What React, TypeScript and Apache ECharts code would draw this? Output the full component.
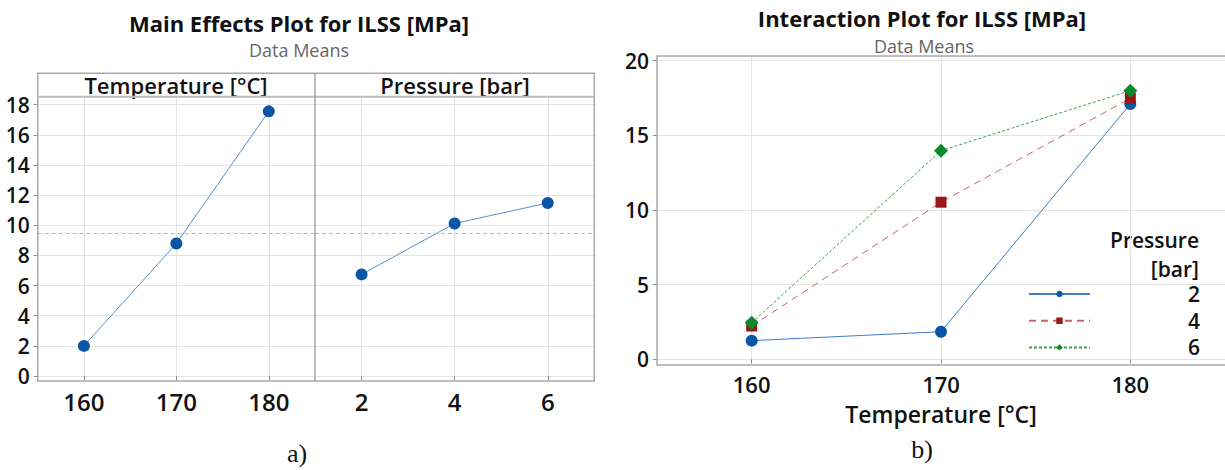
import React, { useEffect, useRef } from "react";
import * as echarts from "echarts";

// ---- data ----
const temperatures = [160, 170, 180];
const pressures = [2, 4, 6];
const tempMeans = [2.0, 8.79, 17.56];
const pressureMeans = [6.74, 10.12, 11.48];
const grandMean = 9.48;
const pressureLevels = ["2", "4", "6"];
const ilssP2 = [1.25, 1.85, 17.1];
const ilssP4 = [2.23, 10.52, 17.48];
const ilssP6 = [2.45, 13.97, 17.99];
const mainYTicks = [0, 2, 4, 6, 8, 10, 12, 14, 16, 18];
const interYTicks = [0, 5, 10, 15, 20];

const FONT = '"Open Sans", "Noto Sans", sans-serif';
const GRID_COLOR = "#e4e4e4";
const FRAME_COLOR = "#a9a9a9";

function pairs(xs: number[], ys: number[]) {
  return xs.map((x, i) => [x, ys[i]]);
}

export default function App() {
  const ref = useRef<HTMLDivElement>(null);
  useEffect(() => {
    if (!ref.current) return;
    const chart = echarts.init(ref.current, null, { renderer: "svg" });

    const valueX = (grid: number, min: number, max: number, ticks: number[], fontSize: number, extra: any = {}) => ({
      type: "value",
      gridIndex: grid,
      min,
      max,
      axisLine: { show: false },
      axisTick: { show: true, length: 4, customValues: ticks, lineStyle: { color: "#8c8c8c" } },
      axisLabel: { customValues: ticks, margin: 8, fontSize, fontFamily: FONT, fontWeight: 600, color: "#111" },
      splitLine: { show: true, lineStyle: { color: GRID_COLOR, width: 1 } },
      ...extra,
    });
    const valueY = (grid: number, min: number, max: number, ticks: number[], showLabel: boolean, fontSize: number) => ({
      type: "value",
      gridIndex: grid,
      min,
      max,
      axisLine: { show: false },
      axisTick: { show: showLabel, length: 4, customValues: ticks, lineStyle: { color: "#8c8c8c" } },
      axisLabel: { show: showLabel, customValues: ticks, margin: 8, fontSize, fontFamily: FONT, fontWeight: 600, color: "#111" },
      splitLine: { show: true, lineStyle: { color: GRID_COLOR, width: 1 } },
    });

    const text = (x: number, y: number, t: string, size: number, weight: string | number, family: string, fill = "#111", align = "center") => ({
      type: "text",
      x,
      y,
      silent: true,
      style: {
        text: t,
        fontSize: size,
        fontWeight: weight,
        fontFamily: family,
        lineHeight: size,
        fill,
        align,
        verticalAlign: "middle",
      },
    });

    const option: any = {
      animation: false,
      backgroundColor: "#fff",
      grid: [
        { left: 37.7, top: 96.7, width: 277.3, height: 284.3 },
        { left: 315, top: 96.7, width: 279.3, height: 284.3 },
        { left: 657, top: 56, width: 571, height: 309 },
      ],
      xAxis: [
        valueX(0, 155, 185, temperatures, 24),
        valueX(1, 1, 7, pressures, 24),
        valueX(2, 155, 185, temperatures, 22, {
          name: "Temperature [°C]",
          nameLocation: "middle",
          nameGap: 37,
          nameTextStyle: { fontSize: 23, fontWeight: 600, fontFamily: FONT, color: "#111" },
        }),
      ],
      yAxis: [
        valueY(0, -0.33, 18.53, mainYTicks, true, 21),
        valueY(1, -0.33, 18.53, mainYTicks, false, 21),
        valueY(2, -0.38, 20.31, interYTicks, true, 21),
      ],
      legend: {
        data: pressureLevels,
        orient: "vertical",
        left: 1023,
        top: 278.5,
        itemWidth: 61,
        itemHeight: 8,
        itemGap: 5.7,
        selectedMode: false,
        formatter: "{a|{name}}",
        textStyle: {
          rich: {
            a: { width: 105, align: "right", fontSize: 21, lineHeight: 21, fontFamily: FONT, fontWeight: 600, color: "#111" },
          },
        },
      },
      series: [
        {
          name: "Temperature means",
          type: "line",
          xAxisIndex: 0,
          yAxisIndex: 0,
          data: pairs(temperatures, tempMeans),
          symbol: "circle",
          symbolSize: 12,
          itemStyle: { color: "#0a56a6" },
          lineStyle: { color: "#5a8ecf", width: 1 },
          markLine: {
            silent: true,
            symbol: "none",
            label: { show: false },
            lineStyle: { color: "#b8b8b8", type: [4, 3], width: 1 },
            data: [{ yAxis: grandMean }],
          },
        },
        {
          name: "Pressure means",
          type: "line",
          xAxisIndex: 1,
          yAxisIndex: 1,
          data: pairs(pressures, pressureMeans),
          symbol: "circle",
          symbolSize: 12,
          itemStyle: { color: "#0a56a6" },
          lineStyle: { color: "#5a8ecf", width: 1 },
          markLine: {
            silent: true,
            symbol: "none",
            label: { show: false },
            lineStyle: { color: "#b8b8b8", type: [4, 3], width: 1 },
            data: [{ yAxis: grandMean }],
          },
        },
        {
          name: pressureLevels[0],
          type: "line",
          xAxisIndex: 2,
          yAxisIndex: 2,
          data: pairs(temperatures, ilssP2),
          symbol: "circle",
          symbolSize: 12,
          itemStyle: { color: "#0a56a6" },
          lineStyle: { color: "#3f7dc6", width: 1 },
          z: 3,
        },
        {
          name: pressureLevels[1],
          type: "line",
          xAxisIndex: 2,
          yAxisIndex: 2,
          data: pairs(temperatures, ilssP4),
          symbol: "rect",
          symbolSize: 11,
          itemStyle: { color: "#9b1616" },
          lineStyle: { color: "#c86464", width: 1, type: [7, 5] },
          z: 4,
        },
        {
          name: pressureLevels[2],
          type: "line",
          xAxisIndex: 2,
          yAxisIndex: 2,
          data: pairs(temperatures, ilssP6),
          symbol: "diamond",
          symbolSize: 14,
          itemStyle: { color: "#0a8a2a" },
          lineStyle: { color: "#3aa04e", width: 1, type: [3, 2] },
          z: 5,
        },
      ],
      graphic: [
        // left frame with header strip
        { type: "rect", silent: true, z: 10, shape: { x: 37.7, y: 73.3, width: 556.6, height: 307.7 }, style: { fill: "none", stroke: FRAME_COLOR, lineWidth: 1.5 } },
        { type: "line", silent: true, z: 10, shape: { x1: 37.7, y1: 96.7, x2: 594.3, y2: 96.7 }, style: { stroke: "#bdbdbd", lineWidth: 2 } },
        { type: "line", silent: true, z: 10, shape: { x1: 315, y1: 73.3, x2: 315, y2: 381 }, style: { stroke: "#7a7a7a", lineWidth: 1 } },
        // right frame
        { type: "rect", silent: true, z: 10, shape: { x: 657, y: 56, width: 580, height: 309 }, style: { fill: "none", stroke: FRAME_COLOR, lineWidth: 1.5 } },
        text(299, 23, "Main Effects Plot for ILSS [MPa]", 22, "bold", FONT),
        text(299, 50, "Data Means", 18, "normal", FONT, "#666"),
        text(922, 18, "Interaction Plot for ILSS [MPa]", 22, "bold", FONT),
        text(924, 46, "Data Means", 18, "normal", FONT, "#666"),
        text(176, 85, "Temperature [°C]", 22, 600, FONT),
        text(455, 85, "Pressure [bar]", 22, 600, FONT),
        text(1199, 240, "Pressure", 21, 600, FONT, "#111", "right"),
        text(1199, 269, "[bar]", 21, 600, FONT, "#111", "right"),
        text(297, 453, "a)", 26, "normal", '"Liberation Serif", serif'),
        text(922, 449, "b)", 26, "normal", '"Liberation Serif", serif'),
      ],
    };
    chart.setOption(option);
    return () => chart.dispose();
  }, []);
  return <div ref={ref} style={{ position: "fixed", left: 0, top: 0, width: 1225, height: 470 }} />;
}
